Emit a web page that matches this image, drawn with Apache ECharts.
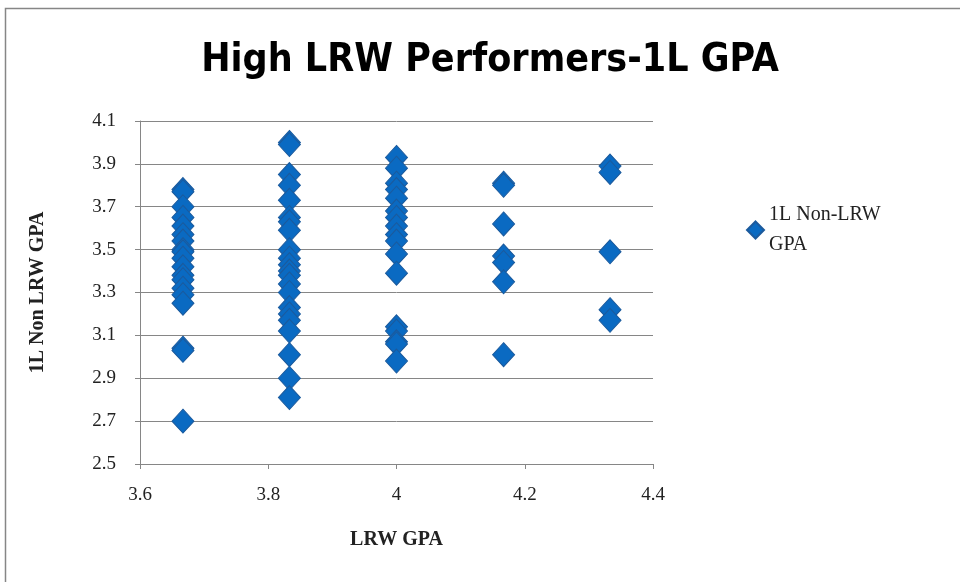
<!DOCTYPE html>
<html>
<head>
<meta charset="utf-8">
<script src="https://cdn.jsdelivr.net/npm/echarts@6/dist/echarts.min.js"></script>
<style>
  html, body { margin: 0; padding: 0; background: #fff; }
  #chart { width: 960px; height: 582px; }
</style>
</head>
<body>
<div id="chart"></div>
<script>
// LRW GPA levels (x) and the 1L non-LRW GPAs seen at each level (y)
var lrwLevels = [3.667, 3.833, 4.0, 4.167, 4.333];
var gpaAt3667 = [3.78, 3.77, 3.70, 3.65, 3.61, 3.57, 3.54, 3.50, 3.49, 3.46, 3.42, 3.38, 3.36, 3.32, 3.29, 3.25, 3.04, 3.03, 2.70];
var gpaAt3833 = [4.00, 3.99, 3.85, 3.80, 3.73, 3.65, 3.63, 3.59, 3.50, 3.46, 3.43, 3.40, 3.38, 3.34, 3.30, 3.23, 3.20, 3.17, 3.12, 3.01, 2.90, 2.81];
var gpaAt4000 = [3.93, 3.88, 3.81, 3.78, 3.74, 3.68, 3.65, 3.61, 3.57, 3.54, 3.48, 3.39, 3.14, 3.12, 3.07, 3.06, 2.98];
var gpaAt4167 = [3.81, 3.80, 3.62, 3.47, 3.44, 3.35, 3.01];
var gpaAt4333 = [3.89, 3.86, 3.49, 3.22, 3.17];
var seriesName = '1L Non-LRW GPA';
var xTicks = { min: 3.6, max: 4.4, step: 0.2 };
var yTicks = { min: 2.5, max: 4.1, step: 0.2 };

var columns = [gpaAt3667, gpaAt3833, gpaAt4000, gpaAt4167, gpaAt4333];
var points = [];
columns.forEach(function (col, i) {
  col.forEach(function (v) { points.push([lrwLevels[i], v]); });
});

var serif = '"Liberation Serif", "DejaVu Serif", serif';
var chart = echarts.init(document.getElementById('chart'));
chart.setOption({
  animation: false,
  backgroundColor: '#fff',
  graphic: [{
    type: 'rect',
    shape: { x: 5.5, y: 8.5, width: 960, height: 580 },
    style: { fill: 'none', stroke: '#868686', lineWidth: 1.5 }
  }],
  title: {
    text: 'High LRW Performers-1L GPA',
    left: 485, top: 36, textAlign: 'center',
    textStyle: { fontFamily: '"Liberation Sans Narrow", "DejaVu Sans Condensed", "Open Sans", sans-serif', fontWeight: 'bold', fontSize: 39, color: '#000' }
  },
  grid: { left: 140, right: 307, top: 121, bottom: 118 },
  legend: {
    data: [{ name: seriesName, icon: 'diamond' }],
    orient: 'vertical', left: 741, top: 195,
    itemWidth: 17, itemHeight: 17, itemGap: 6,
    formatter: function (n) { return n.replace(' GPA', '\nGPA'); },
    textStyle: { fontFamily: serif, fontSize: 20, color: '#222', lineHeight: 30 }
  },
  xAxis: {
    type: 'value', min: xTicks.min, max: xTicks.max, interval: xTicks.step,
    name: 'LRW GPA', nameLocation: 'middle', nameGap: 66,
    nameTextStyle: { fontFamily: serif, fontWeight: 'bold', fontSize: 20, color: '#222' },
    axisLine: { lineStyle: { color: '#868686' } },
    axisTick: { show: true, length: 5, lineStyle: { color: '#868686' } },
    axisLabel: { fontFamily: serif, fontSize: 19, color: '#222', margin: 22,
      formatter: function (v) { return +v.toFixed(1) + ''; } },
    splitLine: { show: false }
  },
  yAxis: {
    type: 'value', min: yTicks.min, max: yTicks.max, interval: yTicks.step,
    name: '1L Non LRW GPA', nameLocation: 'middle', nameGap: 92, nameRotate: 90,
    nameTextStyle: { fontFamily: serif, fontWeight: 'bold', fontSize: 20, color: '#222' },
    axisLine: { show: true, lineStyle: { color: '#868686' } },
    axisTick: { show: true, length: 5, lineStyle: { color: '#868686' } },
    axisLabel: { fontFamily: serif, fontSize: 19, color: '#222', margin: 24,
      formatter: function (v) { return v.toFixed(1); } },
    splitLine: { show: true, lineStyle: { color: '#868686', width: 1 } }
  },
  series: [{
    name: seriesName,
    type: 'scatter',
    symbol: 'diamond',
    symbolSize: [22, 24],
    itemStyle: { color: '#0a6ac2', borderColor: '#1c5a9c', borderWidth: 1, opacity: 1 },
    data: points
  }]
});
</script>
</body>
</html>
